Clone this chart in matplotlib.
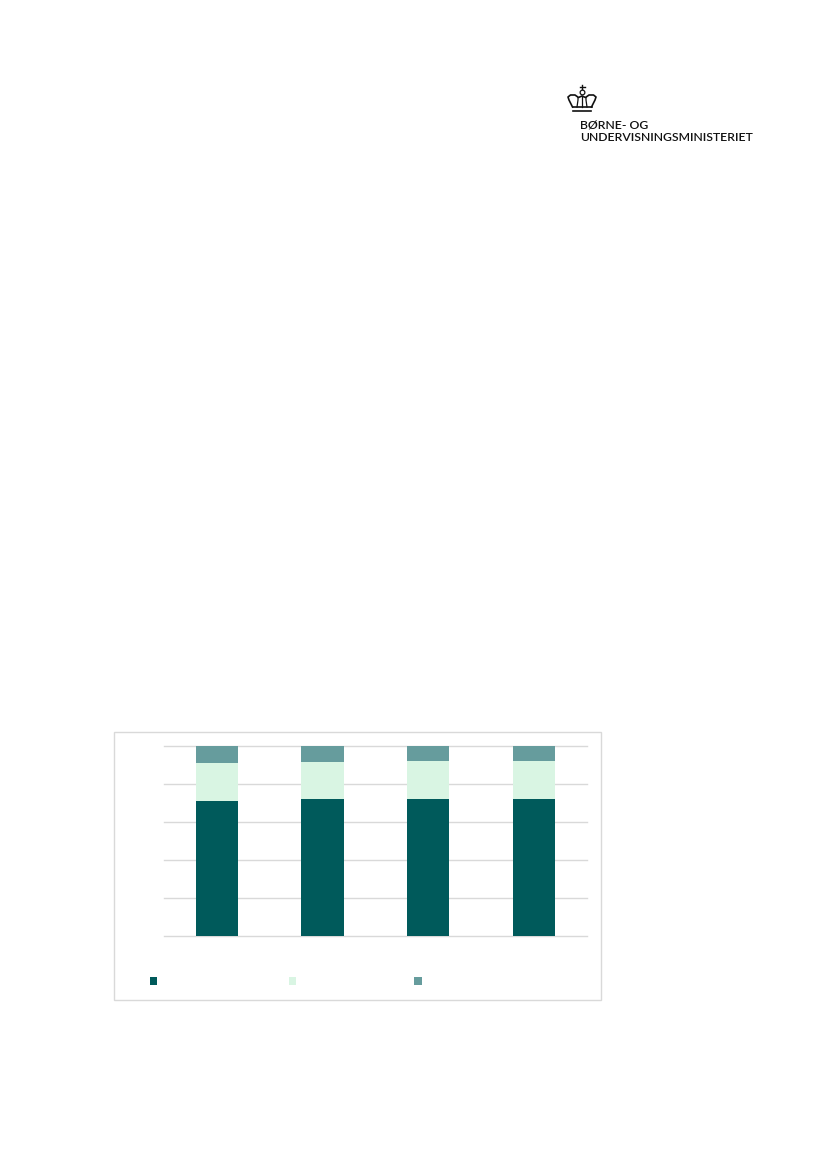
import matplotlib
matplotlib.use("Agg")
import matplotlib.pyplot as plt
from matplotlib.patches import Rectangle

# values (share in percent), axis text is not visible in the source
positions = [0, 1, 2, 3]
dark_values = [71.2, 72.0, 72.1, 72.0]
light_values = [20.0, 19.5, 20.0, 20.0]
grey_values = [8.8, 8.5, 7.9, 8.0]
y_ticks = [0, 20, 40, 60, 80, 100]

DARK = "#005A5B"
LIGHT = "#D9F5E3"
GREY = "#669C9D"
LINE = "#D9D9D9"
INK = "#111111"

W, H = 827, 1169
fig = plt.figure(figsize=(W / 100, H / 100), dpi=100, facecolor="white")

# overlay in pixel coordinates for the frame, legend swatches and logo
page = fig.add_axes([0, 0, 1, 1])
page.set_xlim(0, W)
page.set_ylim(H, 0)
page.axis("off")

page.add_patch(Rectangle((113.8, 731.8), 487, 268, fc="white", ec=LINE, lw=1))

# chart
ax = fig.add_axes([164 / W, 1 - 935.8 / H, 422.7 / W, 190 / H])
ax.patch.set_alpha(0)
bottoms_light = [d for d in dark_values]
bottoms_grey = [d + l for d, l in zip(dark_values, light_values)]
ax.bar(positions, dark_values, width=0.4, color=DARK, zorder=3)
ax.bar(positions, light_values, width=0.4, bottom=bottoms_light, color=LIGHT, zorder=3)
ax.bar(positions, grey_values, width=0.4, bottom=bottoms_grey, color=GREY, zorder=3)
ax.set_xlim(-0.5, 3.5)
ax.set_ylim(0, 100)
ax.set_yticks(y_ticks)
ax.set_xticks(positions)
ax.tick_params(length=0, labelleft=False, labelbottom=False)
ax.grid(axis="y", color=LINE, lw=1, zorder=0, clip_on=False)
for side in ["top", "right", "left", "bottom"]:
    ax.spines[side].set_visible(False)

# legend swatches
for x, c in zip([150.2, 288.8, 414.4], [DARK, LIGHT, GREY]):
    page.add_patch(Rectangle((x, 977.3), 7.2, 7.2, fc=c, ec="none"))

# logo: crown
crown_lw = 1.2
page.plot([582, 582], [85, 92], color=INK, lw=1)
page.plot([579.5, 584.5], [87.3, 87.3], color=INK, lw=1)
page.plot([582], [91.8], "o", ms=3.4, mfc="white", mec=INK, mew=0.9)
page.plot([573, 591], [110.5, 110.5], color=INK, lw=crown_lw)
page.plot([572.5, 591.5], [107, 107], color=INK, lw=crown_lw)
page.plot([572.5, 569, 568, 570.5, 575, 578.5, 582, 585.5, 589, 593.5, 596, 595, 591.5],
          [107, 100, 97, 95, 95, 97.5, 96, 97.5, 95, 95, 97, 100, 107], color=INK, lw=crown_lw)
page.plot([577, 578, 578], [107, 100, 97.5], color=INK, lw=0.9)
page.plot([587, 586, 586], [107, 100, 97.5], color=INK, lw=0.9)
page.plot([582, 582], [96, 107], color=INK, lw=0.9)

# logo: text
page.text(580.5, 128.5, "BØRNE- OG", family="Lato", fontsize=8.85, color=INK, weight="semibold", va="baseline")
page.text(580.5, 141, "UNDERVISNINGSMINISTERIET", family="Lato", fontsize=8.85, color=INK, weight="semibold", va="baseline")

fig.savefig("out.png", dpi=100, facecolor="white")
